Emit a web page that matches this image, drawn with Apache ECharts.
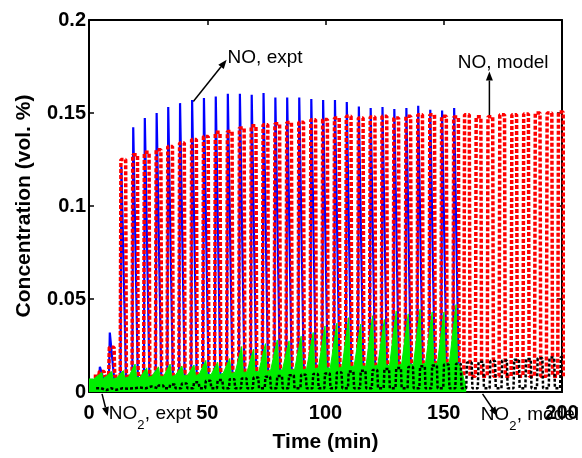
<!DOCTYPE html>
<html>
<head>
<meta charset="utf-8">
<script src="https://cdn.jsdelivr.net/npm/echarts@6/dist/echarts.min.js"></script>
<style>
  html, body { margin: 0; padding: 0; background: #fff; }
  #chart { width: 582px; height: 458px; }
</style>
</head>
<body>
<div id="chart"></div>
<script>
// time of each pulse (min), read from the peaks
var cycleT = [5.4, 9.6, 14.5, 19.5, 24.4, 29.4, 34.3, 39.3, 44.4, 49.4,
              54.4, 59.5, 64.6, 69.6, 74.6, 79.6, 84.6, 89.7, 94.8, 99.8,
              104.8, 109.8, 114.9, 119.9, 124.9, 129.9, 135.0, 140.0, 145.1, 150.1,
              155.2, 159.8, 164.7, 169.7, 174.7, 179.8, 184.8, 189.7, 194.7, 199.5];

// NO, experiment (first 31 pulses)
var noExptPeak = [0.0136, 0.032, 0.121, 0.1423, 0.1473, 0.150, 0.1532, 0.1553, 0.157, 0.158,
                  0.1589, 0.1603, 0.1603, 0.1598, 0.1607, 0.1583, 0.1583, 0.1583, 0.1575, 0.157,
                  0.157, 0.1559, 0.1535, 0.1527, 0.1532, 0.1521, 0.1527, 0.1539, 0.1517, 0.1514,
                  0.1527];
var noExptLow = 0.005;

// NO, model
var noModelPeak = [0.011, 0.024, 0.125, 0.1276, 0.1289, 0.1303, 0.132, 0.1339, 0.1357, 0.1374,
                   0.1396, 0.1401, 0.142, 0.1432, 0.1437, 0.1442, 0.1449, 0.145, 0.1464, 0.1465,
                   0.1473, 0.1482, 0.1473, 0.1478, 0.1482, 0.1473, 0.1482, 0.149, 0.149, 0.1482,
                   0.1478, 0.149, 0.148, 0.148, 0.149, 0.149, 0.1495, 0.150, 0.150, 0.1505];
var noModelLow = 0.0085;

// NO2, experiment
var no2ExptPeak = [0.0105, 0.011, 0.0115, 0.015, 0.013, 0.0135, 0.015, 0.014, 0.0145, 0.017,
                   0.016, 0.018, 0.0245, 0.023, 0.026, 0.028, 0.0275, 0.030, 0.032, 0.0355,
                   0.037, 0.040, 0.0365, 0.041, 0.039, 0.0435, 0.042, 0.0445, 0.043, 0.043,
                   0.047];
var no2ExptLow = [0.007, 0.007, 0.0075, 0.008, 0.0078, 0.0085, 0.0083, 0.009, 0.0088, 0.0095,
                  0.0093, 0.010, 0.0105, 0.0108, 0.011, 0.0117, 0.012, 0.0118, 0.0125, 0.013,
                  0.0128, 0.0135, 0.014, 0.0138, 0.0145, 0.0143, 0.015, 0.0148, 0.0155, 0.0153,
                  0.016];

// NO2, model
var no2ModelPeak = [0.001, 0.0012, 0.0018, 0.0024, 0.003, 0.0035, 0.004, 0.0046, 0.0052, 0.006,
                    0.0064, 0.0069, 0.0073, 0.0078, 0.0082, 0.0086, 0.009, 0.0093, 0.0097, 0.010,
                    0.0105, 0.011, 0.0114, 0.0118, 0.0124, 0.0129, 0.0134, 0.0138, 0.0143, 0.0148,
                    0.0152, 0.0158, 0.0162, 0.0166, 0.017, 0.0174, 0.0178, 0.0181, 0.0185, 0.0188];
var no2ModelLow = 0.002;

var xTicks = [0, 50, 100, 150, 200];
var yTicks = [0, 0.05, 0.1, 0.15, 0.2];

// build the traces
var noExpt = [[0, noExptLow]];
for (var i = 0; i < noExptPeak.length; i++) {
  var t = cycleT[i];
  noExpt.push([t - 1.2, noExptLow], [t - 0.8, noExptPeak[i]], [t + 1.2, noExptLow]);
}
noExpt.push([158.5, noExptLow]);

var noModel = [[2, noModelLow]];
for (var i = 0; i < noModelPeak.length; i++) {
  var t = cycleT[i];
  noModel.push([t - 1.3, noModelLow], [t - 1.0, noModelPeak[i]], [t + 1.0, noModelPeak[i]], [t + 1.3, noModelLow]);
}

var no2Expt = [[0, 0.007], [2, 0.007]];
for (var i = 0; i < no2ExptPeak.length; i++) {
  var t = cycleT[i];
  no2Expt.push([t - 2.8, no2ExptLow[i]], [t, no2ExptPeak[i]], [t + 0.6, no2ExptLow[i]]);
}
no2Expt.push([157.5, 0.012], [159.5, 0.002]);

var no2Model = [[3, no2ModelLow]];
for (var i = 0; i < no2ModelPeak.length; i++) {
  var t = cycleT[i];
  no2Model.push([t - 0.3, no2ModelLow], [t, no2ModelPeak[i]], [t + 2.0, no2ModelPeak[i]], [t + 2.3, no2ModelLow]);
}

var font = 'Liberation Sans, Arial, sans-serif';
var tickLabel = { fontFamily: font, fontWeight: 'bold', fontSize: 20, color: '#000' };
var nameStyle = { fontFamily: font, fontWeight: 'bold', fontSize: 21, color: '#000' };
var frameLine = { onZero: false, lineStyle: { color: '#000', width: 2 } };
var tickStyle = { inside: true, length: 5, lineStyle: { color: '#000', width: 1.5 } };

var chart = echarts.init(document.getElementById('chart'));
chart.setOption({
  animation: false,
  backgroundColor: '#fff',
  grid: { left: 89, right: 20, top: 20, bottom: 65 },
  xAxis: [{
    type: 'value', min: xTicks[0], max: xTicks[xTicks.length - 1], interval: xTicks[1] - xTicks[0],
    position: 'bottom',
    axisLine: frameLine, axisTick: tickStyle,
    axisLabel: Object.assign({ margin: 11 }, tickLabel),
    splitLine: { show: false },
    name: 'Time (min)', nameLocation: 'middle', nameGap: 40, nameTextStyle: nameStyle
  }, {
    type: 'value', min: xTicks[0], max: xTicks[xTicks.length - 1], interval: xTicks[1] - xTicks[0],
    position: 'top',
    axisLine: frameLine, axisTick: tickStyle,
    axisLabel: { show: false }, splitLine: { show: false }
  }],
  yAxis: [{
    type: 'value', min: yTicks[0], max: yTicks[yTicks.length - 1], interval: yTicks[1] - yTicks[0],
    position: 'left',
    axisLine: frameLine, axisTick: tickStyle,
    axisLabel: Object.assign({ margin: 3, formatter: function (v) { return String(+v.toFixed(2)); } }, tickLabel),
    splitLine: { show: false },
    name: 'Concentration (vol. %)', nameLocation: 'middle', nameGap: 54, nameTextStyle: nameStyle
  }, {
    type: 'value', min: yTicks[0], max: yTicks[yTicks.length - 1], interval: yTicks[1] - yTicks[0],
    position: 'right',
    axisLine: frameLine, axisTick: tickStyle,
    axisLabel: { show: false }, splitLine: { show: false }
  }],
  series: [{
    name: 'NO, expt', type: 'line', data: noExpt, symbol: 'none', z: 2,
    lineStyle: { color: '#0000ff', width: 2.2 }
  }, {
    name: 'NO, model', type: 'line', data: noModel, symbol: 'none', z: 3,
    lineStyle: { color: '#ff0000', width: 3.5, type: [4, 2] }
  }, {
    name: 'NO2, expt', type: 'line', data: no2Expt, symbol: 'none', z: 4,
    lineStyle: { color: '#00ee00', width: 1 },
    areaStyle: { color: '#00ee00', opacity: 1 }
  }, {
    name: 'NO2, model', type: 'line', data: no2Model, symbol: 'none', z: 5,
    lineStyle: { color: '#000', width: 2.5, type: [3, 2] }
  }]
});

// annotations, anchored in data coordinates
function px(t, v) { return chart.convertToPixel({ seriesIndex: 0 }, [t, v]); }

function arrow(from, to) {
  var a = px(from[0], from[1]), b = px(to[0], to[1]);
  var dx = b[0] - a[0], dy = b[1] - a[1];
  var len = Math.sqrt(dx * dx + dy * dy);
  var ux = dx / len, uy = dy / len;
  var hl = 9, hw = 3.5;
  var bx = b[0] - ux * hl, by = b[1] - uy * hl;
  return [{
    type: 'line', silent: true,
    shape: { x1: a[0], y1: a[1], x2: bx, y2: by },
    style: { stroke: '#000', lineWidth: 1.5 }
  }, {
    type: 'polygon', silent: true,
    shape: { points: [[b[0], b[1]], [bx - uy * hw, by + ux * hw], [bx + uy * hw, by - ux * hw]] },
    style: { fill: '#000' }
  }];
}

function label(t, v, main, sub, rest) {
  var p = px(t, v);
  var out = [{
    type: 'text', silent: true, x: p[0], y: p[1],
    style: { text: main, fill: '#000', font: '19px ' + font, verticalAlign: 'middle', align: 'left' }
  }];
  if (sub) {
    out.push({
      type: 'text', silent: true, x: p[0] + 28.5, y: p[1] + 5,
      style: { text: sub, fill: '#000', font: '13px ' + font, verticalAlign: 'top', align: 'left' }
    });
    out.push({
      type: 'text', silent: true, x: p[0] + 36, y: p[1],
      style: { text: rest, fill: '#000', font: '19px ' + font, verticalAlign: 'middle', align: 'left' }
    });
  }
  return out;
}

var g = [];
g = g.concat(arrow([44.1, 0.1562], [58.2, 0.1786]));
g = g.concat(label(58.6, 0.1799, 'NO, expt'));
g = g.concat(arrow([169.3, 0.1482], [169.3, 0.1723]));
g = g.concat(label(155.9, 0.1772, 'NO, model'));
g = g.concat(arrow([5.5, -0.001], [7.9, -0.0129]));
g = g.concat(label(8.4, -0.0118, 'NO', '2', ', expt'));
g = g.concat(arrow([166.4, -0.001], [172.7, -0.0129]));
g = g.concat(label(165.6, -0.0125, 'NO', '2', ', model'));
chart.setOption({ graphic: g });
</script>
</body>
</html>
